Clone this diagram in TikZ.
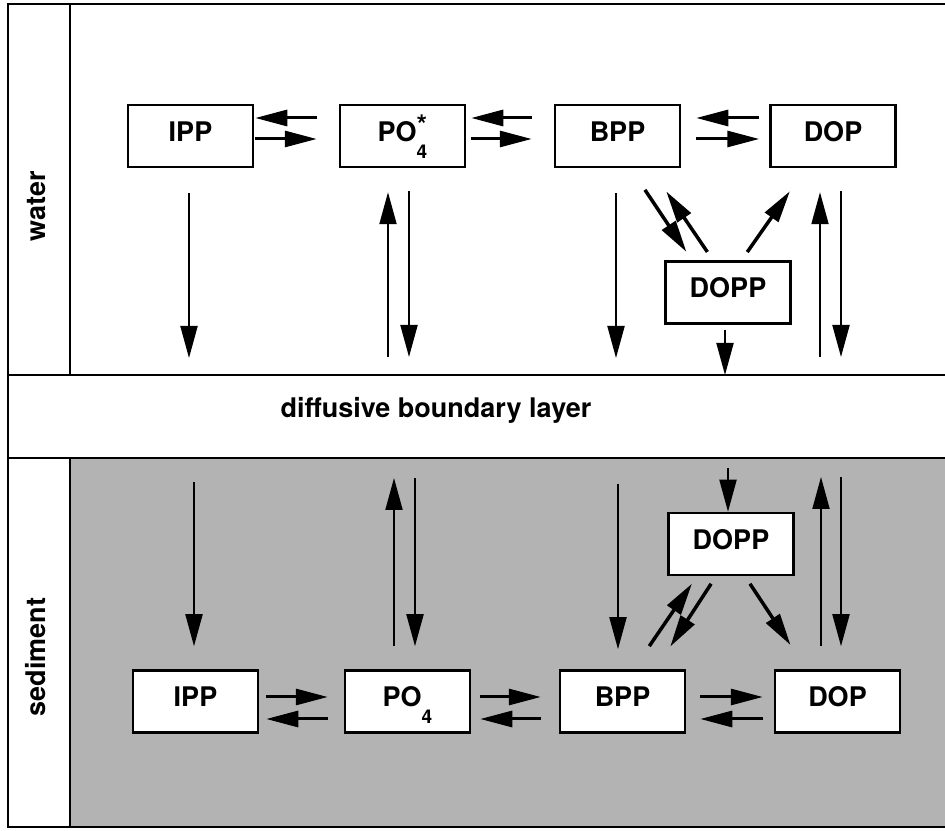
\documentclass[tikz,border=0pt]{standalone}
\usepackage{fontspec}
\setmainfont{TeX Gyre Heros}
\usepackage{tikz}
\usetikzlibrary{arrows.meta}
\usepackage{xcolor}
\definecolor{sedgray}{HTML}{B3B3B3}
\newcommand{\lblfont}{\fontsize{27}{30}\selectfont\bfseries}
\newcommand{\subfour}{\raisebox{-17pt}{\fontsize{19}{19}\selectfont 4}}
\newcommand{\ptstar}{\rlap{\raisebox{7pt}{*}}}

\begin{document}
\begin{tikzpicture}[x=1pt, y=1pt,
    frame/.style={line width=2.5pt},
    box/.style={draw, line width=2.5pt, fill=white, minimum width=125pt,
                minimum height=62pt, inner sep=0pt, text height=20pt,
                text depth=9pt, font=\lblfont},
    vflow/.style={line width=2pt, -{Triangle[length=32pt,width=17pt]}},
    hflow/.style={line width=3pt, -{Triangle[length=32pt,width=16pt]}},
    dflow/.style={line width=3.5pt, -{Triangle[length=32pt,width=16pt]}}]
    \useasboundingbox (0,0) rectangle (945,830);
    \fill[sedgray] (70,372) rectangle (945,3);
    \draw[frame] (945,826) -- (8,826) -- (8,3) -- (945,3);
    \draw[frame] (8,455) -- (945,455);
    \draw[frame] (8,372) -- (945,372);
    \draw[frame] (70,826) -- (70,455);
    \draw[frame] (70,372) -- (70,3);

    \node[font=\lblfont, rotate=90, anchor=base] (water) at (45,624) {water};
    \node[font=\lblfont, rotate=90, anchor=base] (sediment) at (45,173) {sediment};
    \node[font=\lblfont, anchor=base] (dbl) at (436,412) {diffusive boundary layer};

    % water column
    \foreach \nm/\x/\txt in {ippw/190.5/IPP, pow/402.5/{PO\ptstar\subfour},
                             bppw/617.5/BPP, dopw/833/DOP}
        \node[box] (\nm) at (\x,694) {\txt};
    \node[box] (doppw) at (728,537.5) {DOPP};

    \foreach \a/\b/\ga/\gb in {ippw/pow/1/22, pow/bppw/5/22, bppw/dopw/15/10}{
        \draw[hflow, shorten <=\gb pt, shorten >=\ga pt]
            ([yshift=18pt]\b.west) -- ([yshift=18pt]\a.east);
        \draw[hflow, shorten <=\ga pt, shorten >=\gb pt]
            ([yshift=-3pt]\a.east) -- ([yshift=-3pt]\b.west);
    }

    \coordinate (ippw-b) at (189,455);
    \coordinate (poup-b) at (388,455);
    \coordinate (podn-b) at (409,455);
    \coordinate (bppw-b) at (616,455);
    \coordinate (doppw-b) at (725,455);
    \coordinate (dopup-b) at (820,455);
    \coordinate (dopdn-b) at (841,455);

    \draw[vflow, shorten <=25pt, shorten >=17pt] ([xshift=-1.5pt]ippw.south) -- (ippw-b);
    \draw[vflow, shorten <=18pt, shorten >=24pt] (poup-b) -- ([xshift=-14.5pt]pow.south);
    \draw[vflow, shorten <=23pt, shorten >=18pt] ([xshift=6.5pt]pow.south) -- (podn-b);
    \draw[vflow, shorten <=25pt, shorten >=17pt] ([xshift=-1.5pt]bppw.south) -- (bppw-b);
    \draw[vflow, shorten <=5pt] ([xshift=-3pt]doppw.south) -- (doppw-b);
    \draw[vflow, shorten <=18pt, shorten >=24pt] (dopup-b) -- ([xshift=-13pt]dopw.south);
    \draw[vflow, shorten <=23pt, shorten >=18pt] ([xshift=8pt]dopw.south) -- (dopdn-b);

    \draw[dflow, shorten <=26pt, shorten >=10pt] ([xshift=13pt]bppw.south) -- ([xshift=-36pt]doppw.north);
    \draw[dflow, shorten <=10pt, shorten >=28pt] ([xshift=-15pt]doppw.north) -- ([xshift=33pt]bppw.south);
    \draw[dflow, shorten <=10pt, shorten >=28pt] ([xshift=13.5pt]doppw.north) -- ([xshift=-27pt]dopw.south);

    % sediment
    \foreach \nm/\x/\txt in {ipps/195.5/IPP, pos/407.5/{PO\subfour},
                             bpps/622.5/BPP, dops/837.5/DOP}
        \node[box] (\nm) at (\x,128.5) {\txt};
    \node[box] (dopps) at (731,286) {DOPP};

    \foreach \a/\b/\ga/\gb in {ipps/pos/7/16, pos/bpps/9/18, bpps/dops/14/11}{
        \draw[hflow, shorten <=\ga pt, shorten >=\gb pt]
            ([yshift=4.5pt]\a.east) -- ([yshift=4.5pt]\b.west);
        \draw[hflow, shorten <=\gb pt, shorten >=\ga pt]
            ([yshift=-17.5pt]\b.west) -- ([yshift=-17.5pt]\a.east);
    }

    \coordinate (ipps-t) at (194,372);
    \coordinate (poup-t) at (394,372);
    \coordinate (podn-t) at (415,372);
    \coordinate (bpps-t) at (618,372);
    \coordinate (dopps-t) at (728,372);
    \coordinate (dopup-t) at (821,372);
    \coordinate (dopdn-t) at (841,372);

    \draw[vflow, shorten <=10pt] (dopps-t) -- ([xshift=-3pt]dopps.north);
    \draw[vflow, shorten <=24pt, shorten >=23pt] (ipps-t) -- ([xshift=-1.5pt]ipps.north);
    \draw[vflow, shorten <=23pt, shorten >=20pt] ([xshift=-13.5pt]pos.north) -- (poup-t);
    \draw[vflow, shorten <=20pt, shorten >=23pt] (podn-t) -- ([xshift=7.5pt]pos.north);
    \draw[vflow, shorten <=26pt, shorten >=20pt] (bpps-t) -- ([xshift=-4.5pt]bpps.north);
    \draw[vflow, shorten <=23pt, shorten >=19pt] ([xshift=-16.5pt]dops.north) -- (dopup-t);
    \draw[vflow, shorten <=19pt, shorten >=23pt] (dopdn-t) -- ([xshift=3.5pt]dops.north);

    \draw[dflow, shorten <=28pt, shorten >=9pt] ([xshift=11pt]bpps.north) -- ([xshift=-34pt]dopps.south);
    \draw[dflow, shorten <=9pt, shorten >=27pt] ([xshift=-15pt]dopps.south) -- ([xshift=33pt]bpps.north);
    \draw[dflow, shorten <=9pt, shorten >=29pt] ([xshift=14pt]dopps.south) -- ([xshift=-31pt]dops.north);
\end{tikzpicture}
\end{document}
